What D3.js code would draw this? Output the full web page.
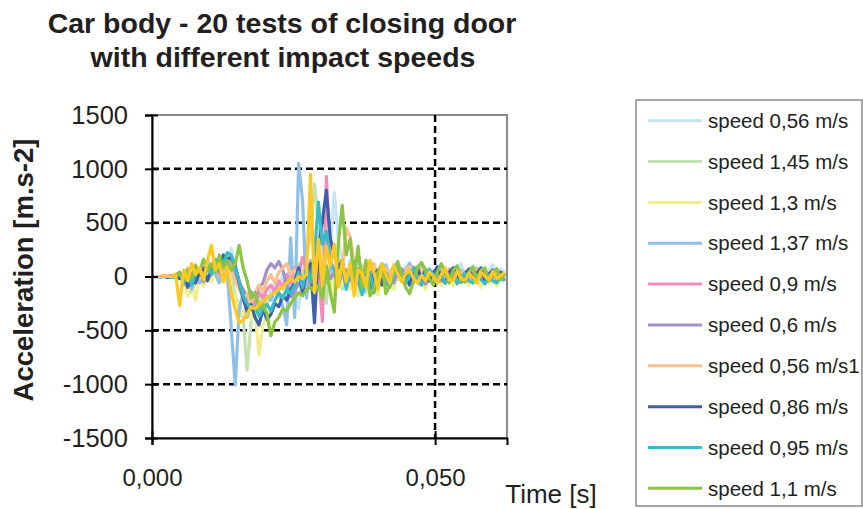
<!DOCTYPE html>
<html>
<head>
<meta charset="utf-8">
<script src="https://cdn.jsdelivr.net/npm/d3@7"></script>
<style>
  body { margin: 0; background: #fff; }
  text { font-family: 'Liberation Sans', Arial, sans-serif; fill: #231f20; }
</style>
</head>
<body>
<script>
const width = 863
const height = 509

// sample clock of the recorded signals [s]
const timeStep = 0.0007
const times = d3.range(90).map(function (i) { return i * timeStep })

const legendNames = [
  'speed 0,56 m/s', 'speed 1,45 m/s', 'speed 1,3 m/s', 'speed 1,37 m/s',
  'speed 0,9 m/s', 'speed 0,6 m/s', 'speed 0,56 m/s1', 'speed 0,86 m/s',
  'speed 0,95 m/s', 'speed 1,1 m/s'
]
const yTicks = [-1500, -1000, -500, 0, 500, 1000, 1500]
const xTicks = [0, 0.05]

const speed056 = [
  0, -10, 0, 0, -10, 0, 20, 30, -40, 70,
  -20, 90, 30, -40, 120, 60, 100, 40, 150, 80,
  260, 60, -80, -150, -200, -260, -180, -220, -150, -100,
  -160, -60, -120, 20, -80, -40, -150, -300, 80, -50,
  120, -80, 200, 300, 60, 250, 780, 350, 120, -60,
  150, 60, -40, 110, -20, 80, 120, -30, 50, 100,
  -20, 120, 60, -40, 90, 130, 20, -30, 100, 50,
  80, 20, -30, 110, 60, -20, 90, 40, 120, -10,
  60, 100, 20, 80, -20, 50, 110, 30, 70, 40
]
const speed145 = [
  0, 0, 0, 10, 0, -10, 0, 30, -60, 40,
  -150, -40, 60, -80, 120, 40, 80, -30, 150, 220,
  60, -180, -260, -380, -870, -420, -300, -250, -200, -260,
  -180, -150, -90, -120, -60, -20, 40, 120, -80, 200,
  380, 860, 500, 300, -250, 180, -100, 150, -120, 60,
  -80, 120, -60, 40, -150, 80, -40, 60, 20, -90,
  50, 90, -30, 40, 80, -20, 60, 100, -40, 30,
  70, -30, 50, 90, 20, -20, 60, 30, -40, 50,
  20, -30, 60, 40, -20, 50, 10, -30, 40, 20
]
const speed13 = [
  0, 0, 0, 0, 10, 0, 0, -20, 40, -180,
  -60, -220, 20, -90, 40, -50, 100, -60, 30, -80,
  -120, -200, -300, -350, -280, -400, -320, -730, -450, -380,
  -300, -250, -200, -180, -120, -150, -100, -60, -120, -80,
  60, -150, 100, 200, -50, 80, -200, 120, -80, 50,
  -120, 60, -180, 40, -60, 100, -30, -170, 50, -80,
  30, -120, 60, -40, -100, 40, 80, -60, -20, -120,
  40, -50, 20, -80, 60, -30, -90, 20, -60, -40,
  -80, 30, -40, -100, 20, -60, -30, -90, 10, -50
]
const speed137 = [
  0, 0, -10, 0, 5, 0, -10, 40, -80, 20,
  -120, 30, -60, 60, -40, 80, 20, -60, 120, 40,
  -480, -1010, -300, -150, -380, -250, -200, -320, -250, -180,
  -220, -120, -150, -280, -450, 360, -380, 1050, 700, -200,
  150, -80, 60, 120, -60, 80, 20, -40, 60, -20,
  40, -60, 50, 80, -30, 20, 90, -40, 30, 110,
  -20, 60, 100, -30, 40, 120, 20, -40, 80, 30,
  60, -20, 90, 40, -30, 70, 10, -50, 60, 20,
  -30, 50, 80, -10, 40, -40, 30, 70, -20, 40
]
const speed09 = [
  0, 0, 0, 0, 0, 0, 10, 20, -30, 60,
  -40, 80, 20, -50, 100, 60, 120, 20, 80, 160,
  140, 60, -40, -160, -220, -180, -260, -150, -200, -120,
  -80, -140, -40, -100, 20, -60, 80, 20, 180, 60,
  -100, 120, 60, -420, 930, 150, 60, -80, 120, -40,
  80, 20, -60, 90, -20, 40, 100, -30, 60, 20,
  -40, 80, 30, -20, 60, 10, 90, -30, 40, 70,
  -10, 50, 20, -40, 60, 30, -20, 50, 10, -30,
  40, 70, -10, 30, 50, -20, 40, 10, -30, 20
]
const speed06 = [
  0, 0, 0, 0, 0, 10, 0, 20, -40, 50,
  -30, 60, -20, 40, 80, 30, 100, 40, 60, 120,
  80, 40, -60, -120, -180, -140, -200, -100, -60, 60,
  120, 80, 140, 60, -80, -190, -140, -60, -120, 40,
  -40, 80, 20, -60, 60, -20, 40, -80, 30, 60,
  -40, 20, 70, -30, 10, 60, -50, 30, 80, -20,
  20, -60, 40, 70, -20, 30, -50, 40, 10, -70,
  -30, 20, -60, -20, 40, -40, 10, -30, 30, -50,
  -10, 20, -40, 10, -60, -20, 30, -30, 0, -40
]
const speed056b = [
  0, 0, 0, 10, 0, 0, 20, 40, -30, 80,
  20, 110, -20, 60, 150, 40, 80, 120, 20, 140,
  60, -40, -120, -200, -160, -250, -150, -80, -140, -40,
  20, -60, 40, 80, 120, 20, 60, -20, 40, 80,
  -60, 100, 180, 40, 260, 120, 40, 160, 60, 450,
  370, 120, -60, 90, -30, 60, 120, -40, 30, 80,
  -20, 60, 100, -10, 40, 90, 20, -40, 70, 30,
  50, -20, 80, 30, -30, 60, 10, -40, 50, 20,
  -20, 40, 70, 0, 30, -30, 50, 20, -10, 40
]
const speed086 = [
  0, 0, 0, 0, -10, 0, 10, -20, 40, -100,
  20, -60, 40, 80, -40, 60, 140, 80, 200, 160,
  180, 100, -60, -200, -320, -260, -380, -450, -300, -400,
  -350, -250, -280, -180, -220, -120, -60, 80, -150, 60,
  120, -430, 280, 520, 800, 350, 200, 80, 150, -60,
  40, -90, 60, -40, 80, -120, 20, 60, -80, 30,
  -60, 40, 90, -40, 20, -80, 40, 80, -30, 60,
  -40, 30, 90, -10, -60, 40, 80, 20, -50, 30,
  70, -20, 30, 80, -40, 20, 60, -30, 40, 10
]
const speed095 = [
  0, 0, 0, 0, 0, -10, 0, 30, -60, 40,
  -80, 20, 60, -40, 100, 20, 160, 60, 120, 220,
  200, 80, -40, -180, -250, -300, -280, -370, -300, -260,
  -320, -220, -150, -200, -120, -160, -80, 40, -100, 80,
  -60, 200, 690, 300, 420, 120, 60, -80, 100, -120,
  50, 140, -40, -170, -60, 40, -150, 20, 60, -60,
  -100, 20, 90, 40, -60, 10, 80, -40, -80, 30,
  60, 20, -40, 10, -60, -30, 40, -70, -20, 30,
  -40, -60, 20, -30, -70, 10, -40, -60, 0, -30
]
const speed11 = [
  0, 0, 0, 0, 0, 0, 10, 40, -40, 60,
  -20, 100, 40, 160, 60, 120, 40, 200, 80, 150,
  60, 120, 290, 80, -40, -200, -150, -300, -250, -350,
  -550, -420, -380, -300, -320, -250, -200, -150, -180, -120,
  -100, -140, -80, -200, 100, -150, -330, 300, 660, 200,
  350, -50, 280, -100, 150, -180, -120, 40, 120, -160,
  -80, 60, 140, 20, -100, -160, -40, 80, 130, 60,
  -20, -80, 40, 120, 40, -60, 60, 100, -40, -50,
  40, 90, -30, 60, 80, -40, 10, 70, -30, 20
]
// one of the tests that is not listed in the legend
const speedHidden = [
  0, 0, 0, 0, 0, 0, 10, -270, 60, -40,
  120, 20, 80, -30, 150, 290, 60, 120, -50, 80,
  -150, -300, -430, -410, -350, -280, -300, -260, -230, -200,
  -170, -150, -120, -100, -60, -20, -50, 0, -20, 20,
  950, -150, 350, -80, 280, 100, 300, -100, 150, -50,
  120, -180, 60, 30, -100, 150, 40, -120, 120, 20,
  -60, 100, 30, -50, 20, 60, -20, -60, 10, -40,
  40, 0, -60, 20, 80, -30, -40, 50, -20, -30,
  30, -10, -60, 40, 0, -30, 50, -20, 10, 40
]

const colors = [
  '#c4e5f3', '#c3e2b2', '#f2ef8a', '#8fc0e7', '#f38cb9',
  '#a590c7', '#f9c08f', '#3f5eab', '#36bdc7', '#8cc540', '#fec823'
]

const seriesValues = [
  speed056, speed145, speed13, speed137, speed09,
  speed06, speed056b, speed086, speed095, speed11, speedHidden
]

const plot = { left: 152, right: 507, top: 115, bottom: 438 }

const svg = d3.select('body')
  .append('svg')
  .attr('width', width)
  .attr('height', height)

const x = d3.scaleLinear().domain([0, 0.0627]).range([plot.left, plot.right])
const y = d3.scaleLinear().domain([-1500, 1500]).range([plot.bottom, plot.top])

// title
svg.append('text')
  .attr('x', 282)
  .attr('y', 33)
  .attr('text-anchor', 'middle')
  .attr('font-size', '28.5px')
  .attr('font-weight', 'bold')
  .text('Car body - 20 tests of closing door')
svg.append('text')
  .attr('x', 283)
  .attr('y', 67)
  .attr('text-anchor', 'middle')
  .attr('font-size', '28.5px')
  .attr('font-weight', 'bold')
  .text('with different impact speeds')

// plot frame (grey top / right)
svg.append('rect')
  .attr('x', plot.left)
  .attr('y', plot.top)
  .attr('width', plot.right - plot.left)
  .attr('height', plot.bottom - plot.top)
  .attr('fill', 'none')
  .attr('stroke', '#8a8a8a')
  .attr('stroke-width', 2)

svg.append('defs').append('clipPath')
  .attr('id', 'clip')
  .append('rect')
  .attr('x', plot.left)
  .attr('y', plot.top)
  .attr('width', plot.right - plot.left)
  .attr('height', plot.bottom - plot.top)

// dashed grid
svg.selectAll('.hgrid')
  .data([-1000, -500, 500, 1000])
  .enter()
  .append('line')
  .attr('x1', plot.left)
  .attr('x2', plot.right)
  .attr('y1', function (d) { return y(d) })
  .attr('y2', function (d) { return y(d) })
  .attr('stroke', '#000')
  .attr('stroke-width', 2.5)
  .attr('stroke-dasharray', '7,4')
svg.append('line')
  .attr('x1', x(0.05))
  .attr('x2', x(0.05))
  .attr('y1', plot.top)
  .attr('y2', plot.bottom)
  .attr('stroke', '#000')
  .attr('stroke-width', 2.5)
  .attr('stroke-dasharray', '7,4')

// signals
const line = d3.line()
  .x(function (d, i) { return x(times[i]) })
  .y(function (d) { return y(d) })

svg.append('g')
  .attr('clip-path', 'url(#clip)')
  .selectAll('path')
  .data(seriesValues)
  .enter()
  .append('path')
  .attr('d', line)
  .attr('fill', 'none')
  .attr('stroke', function (d, i) { return colors[i] })
  .attr('stroke-width', 3.2)
  .attr('stroke-linejoin', 'round')

// axes
const yAxis = svg.append('g')
  .attr('transform', 'translate(' + plot.left + ',0)')
  .call(d3.axisLeft(y).tickValues(yTicks).tickSize(7).tickPadding(17).tickFormat(d3.format('d')))
yAxis.select('.domain').attr('stroke', '#000').attr('stroke-width', 2)
yAxis.selectAll('.tick line')
  .attr('x1', -7).attr('x2', 6)
  .attr('stroke', '#000').attr('stroke-width', 2)
yAxis.selectAll('.tick text')
  .attr('font-size', '25.5px')
  .attr('font-family', "'Liberation Sans', Arial, sans-serif")
  .attr('fill', '#231f20')
  .text(function (d) { return d < 0 ? '-' + Math.abs(d) : d })

const xAxis = svg.append('g')
  .attr('transform', 'translate(0,' + plot.bottom + ')')
  .call(d3.axisBottom(x).tickValues(xTicks).tickSize(7).tickPadding(24))
xAxis.select('.domain').attr('stroke', '#000').attr('stroke-width', 2)
xAxis.selectAll('.tick line')
  .attr('y1', -7).attr('y2', 7)
  .attr('stroke', '#000').attr('stroke-width', 2)
xAxis.selectAll('.tick text')
  .attr('font-size', '24px')
  .attr('font-family', "'Liberation Sans', Arial, sans-serif")
  .attr('fill', '#231f20')
  .text(function (d) { return d3.format('.3f')(d).replace('.', ',') })

// axis titles
svg.append('text')
  .attr('transform', 'translate(33,270) rotate(-90)')
  .attr('text-anchor', 'middle')
  .attr('font-size', '27.5px')
  .attr('font-weight', 'bold')
  .text('Acceleration [m.s-2]')
svg.append('text')
  .attr('x', 551)
  .attr('y', 503)
  .attr('text-anchor', 'middle')
  .attr('font-size', '26px')
  .text('Time [s]')

// legend
const legend = svg.append('g')
legend.append('rect')
  .attr('x', 636)
  .attr('y', 100)
  .attr('width', 226)
  .attr('height', 406)
  .attr('fill', '#fff')
  .attr('stroke', '#8a8a8a')
  .attr('stroke-width', 1.5)
const item = legend.selectAll('.item')
  .data(legendNames)
  .enter()
  .append('g')
  .attr('transform', function (d, i) { return 'translate(0,' + (120.7 + i * 40.85) + ')' })
item.append('line')
  .attr('x1', 648)
  .attr('x2', 702)
  .attr('stroke', function (d, i) { return colors[i] })
  .attr('stroke-width', 3)
item.append('text')
  .attr('x', 708)
  .attr('dy', '0.35em')
  .attr('font-size', '20.5px')
  .text(function (d) { return d })
</script>
</body>
</html>
